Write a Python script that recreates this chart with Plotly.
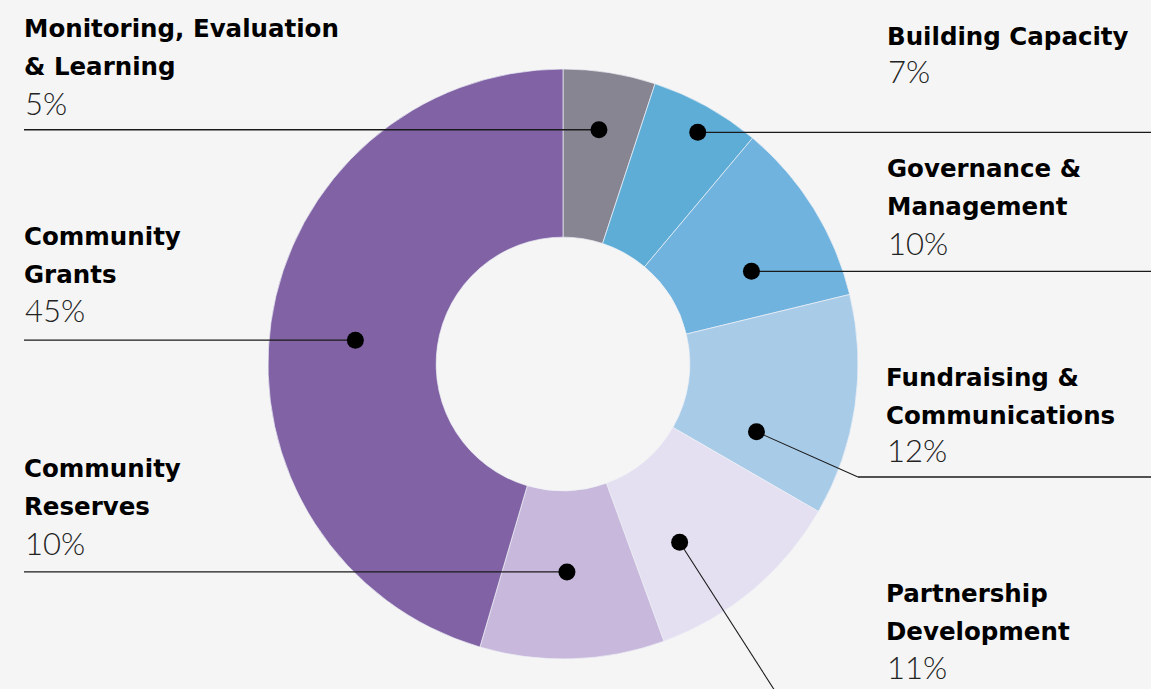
import math
import plotly.graph_objects as go

# ---- data ----
categories = ["Monitoring, Evaluation & Learning", "Building Capacity",
              "Governance & Management", "Fundraising & Communications",
              "Partnership Development", "Community Reserves", "Community Grants"]
# slice sizes as drawn in the reference
slice_values = [5, 6, 10, 12, 11, 10, 45]
# percentages as printed in the labels
pct_labels = ["5%", "7%", "10%", "12%", "11%", "10%", "45%"]
colors = ["#878592", "#5eadd7", "#70b3de", "#a8cbe8", "#e4e0f1", "#c8b8dc", "#8062a5"]

# label text lines (name lines)
label_lines = [
    ["Monitoring, Evaluation", "& Learning"],
    ["Building Capacity"],
    ["Governance &", "Management"],
    ["Fundraising &", "Communications"],
    ["Partnership", "Development"],
    ["Community", "Reserves"],
    ["Community", "Grants"],
]

# ---- layout geometry (pixels) ----
W, H = 1151, 689
CX, CY, R = 563, 364, 295
HOLE = 0.43

# label block: x-left, y of first line centre, y of percentage centre, side
label_pos = [(22, 28, 103, "left"), (885, 36, 71, "right"), (885, 168, 243, "right"),
             (884, 377, 450, "right"), (884, 593, 667, "right"), (22, 468, 543, "left"),
             (22, 236, 310, "left")]
# dot position within slice: fraction along slice angle, radius
dot_frac = [0.48, 0.55, 0.655, 0.755, 0.67, 0.52, 0.49]
dot_rad = [237, 268, 210, 205, 213, 208, 209]

fig = go.Figure()
fig.add_trace(go.Pie(
    labels=categories, values=slice_values, sort=False, direction="clockwise", rotation=0,
    hole=HOLE, marker=dict(colors=colors, line=dict(color="#eef0f6", width=0.7)),
    textinfo="none", hoverinfo="label", showlegend=False,
    domain=dict(x=[(CX - R) / W, (CX + R) / W], y=[1 - (CY + R) / H, 1 - (CY - R) / H]),
))

shapes = []
annotations = []
total = sum(slice_values)
cum = 0
LINE_COL = "#1a1a1a"
for i, v in enumerate(slice_values):
    start = cum / total * 360
    end = (cum + v) / total * 360
    cum += v
    ang = math.radians(start + (end - start) * dot_frac[i])
    dx = CX + dot_rad[i] * math.sin(ang)
    dy = CY - dot_rad[i] * math.cos(ang)
    lx, ly, py, side = label_pos[i]
    # leader lines
    if side == "left":
        shapes.append(dict(type="line", x0=24, x1=dx, y0=dy, y1=dy, xref="x", yref="y",
                           line=dict(color=LINE_COL, width=1.3), layer="above"))
    else:
        if categories[i].startswith("Fundraising"):
            ey = py + 27
            ex = 858
            shapes.append(dict(type="line", x0=dx, y0=dy, x1=ex, y1=ey, xref="x", yref="y",
                               line=dict(color=LINE_COL, width=1.1), layer="above"))
            shapes.append(dict(type="line", x0=ex, y0=ey, x1=W, y1=ey, xref="x", yref="y",
                               line=dict(color=LINE_COL, width=1.3), layer="above"))
        elif categories[i].startswith("Partnership"):
            shapes.append(dict(type="line", x0=dx, y0=dy, x1=775, y1=H + 2, xref="x", yref="y",
                               line=dict(color=LINE_COL, width=1.1), layer="above"))
        else:
            shapes.append(dict(type="line", x0=dx, x1=W, y0=dy, y1=dy, xref="x", yref="y",
                               line=dict(color=LINE_COL, width=1.3), layer="above"))
    shapes.append(dict(type="circle", x0=dx - 8.5, x1=dx + 8.5, y0=dy - 8.5, y1=dy + 8.5,
                       xref="x", yref="y", fillcolor="#000000", line=dict(width=0), layer="above"))
    # texts
    for j, t in enumerate(label_lines[i]):
        annotations.append(dict(x=lx, y=ly + 38 * j, xref="x", yref="y", text=t,
                                showarrow=False, xanchor="left", yanchor="middle",
                                font=dict(family="DejaVu Sans", size=24.5, color="#000000",
                                          weight="bold")))
    annotations.append(dict(x=lx + 1, y=py, xref="x", yref="y", text=pct_labels[i],
                            showarrow=False, xanchor="left", yanchor="middle",
                            font=dict(family="Lato", size=31, color="#222222", weight=300)))

fig.update_layout(
    width=W, height=H, margin=dict(l=0, r=0, t=0, b=0),
    paper_bgcolor="#f5f5f5", plot_bgcolor="rgba(0,0,0,0)",
    xaxis=dict(range=[0, W], visible=False, fixedrange=True, domain=[0, 1]),
    yaxis=dict(range=[H, 0], visible=False, fixedrange=True, domain=[0, 1]),
    shapes=shapes, annotations=annotations, showlegend=False,
)

fig.write_html("out.html", config={"displayModeBar": False},
               post_script="document.body.style.margin='0';document.body.style.overflow='hidden';")
